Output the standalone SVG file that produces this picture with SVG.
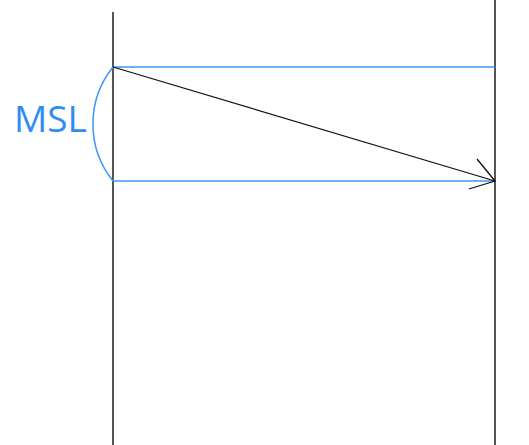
<svg xmlns="http://www.w3.org/2000/svg" width="529" height="445" viewBox="0 0 529 445">
<style>
.life{stroke:#555;stroke-width:2;fill:none}
.blue{stroke:#3f95f5;stroke-width:1.5;fill:none}
.msg{stroke:#111;stroke-width:1.3;fill:none}
.lbl{font-family:"Open Sans",sans-serif;font-size:37px;fill:#2f8cf2}
</style>
<rect width="529" height="445" fill="#fff"/>
<g id="lifelines">
<line class="life" x1="113" y1="12" x2="113" y2="445"/>
<line class="life" x1="495" y1="0" x2="495" y2="445"/>
</g>
<g id="msl">
<line class="blue" x1="113" y1="67" x2="495" y2="67"/>
<line class="blue" x1="113" y1="181" x2="495" y2="181"/>
<path class="blue" d="M113,67 A91,91 0 0 0 113,181"/>
<text class="lbl" x="14" y="132">MSL</text>
</g>
<g id="connectors">
<line class="msg" x1="113" y1="67" x2="495" y2="181"/>
<polyline class="msg" points="477,159 495,181 469,189"/>
</g>
</svg>
